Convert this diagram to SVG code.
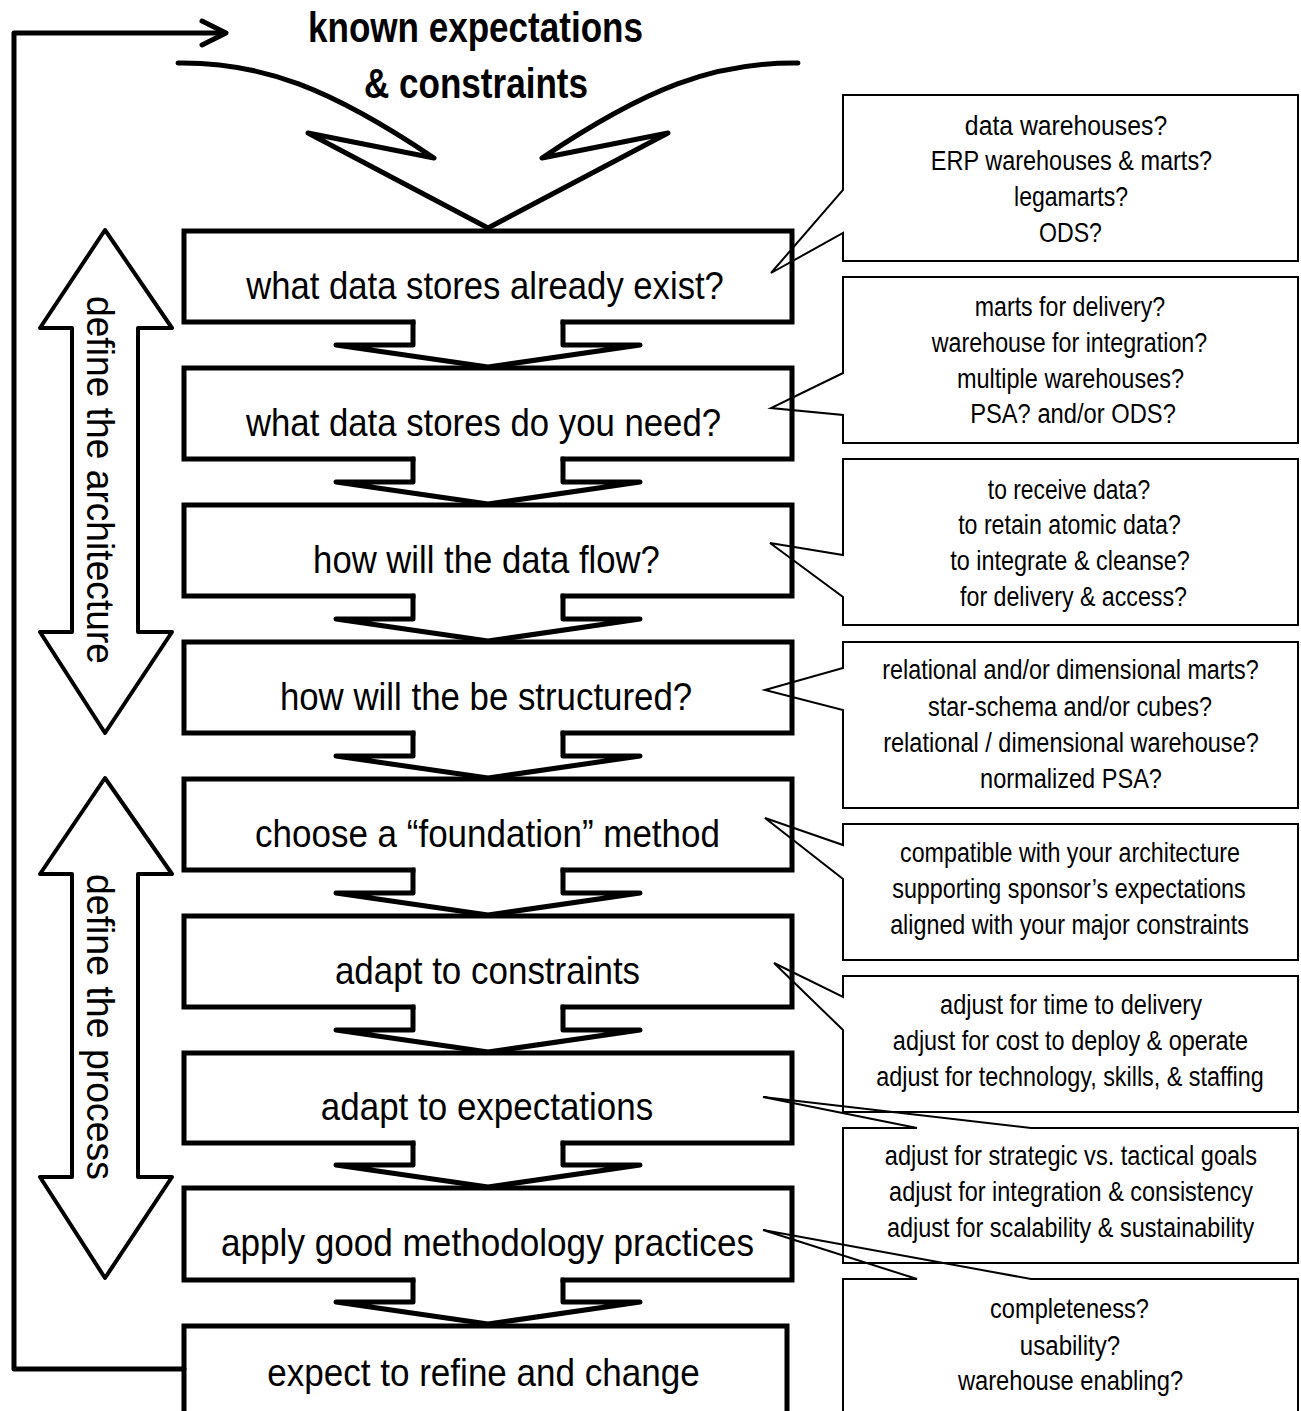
<svg xmlns="http://www.w3.org/2000/svg" width="1301" height="1411" viewBox="0 0 1301 1411">
  <style>
    .box { fill: none; stroke: #000; stroke-width: 5; stroke-linecap: square; stroke-linejoin: miter; }
    .conn { fill: none; stroke: #000; stroke-width: 5; stroke-linejoin: round; stroke-linecap: round; }
    .call { fill: none; stroke: #000; stroke-width: 2; stroke-linejoin: miter; }
    .side { fill: none; stroke: #000; stroke-width: 4; stroke-linejoin: round; }
    text { font-family: "Liberation Sans Narrow", "Liberation Sans", Arial, sans-serif; fill: #000; }
    .t { font-size: 39px; text-anchor: middle; }
    .c { font-size: 27.5px; text-anchor: middle; }
    .s { font-size: 38px; }
    .h { font-size: 42px; font-weight: bold; }
  </style>
  <rect width="1301" height="1411" fill="#fff"/>

  <!-- heading -->
  <g id="heading">
    <text class="h" x="308" y="42" textLength="335" lengthAdjust="spacingAndGlyphs">known expectations</text>
    <text class="h" x="364" y="98" textLength="224" lengthAdjust="spacingAndGlyphs">&amp; constraints</text>
  </g>

  <!-- side arrows -->
  <g id="arch-span">
    <path class="side" d="M105,230 L172,328 H138 V632 H172 L105,733 L40,632 H72 V328 H40 Z"/>
    <text class="s" transform="translate(87,296) rotate(90)" textLength="368" lengthAdjust="spacingAndGlyphs">define the architecture</text>
  </g>
  <g id="process-span">
    <path class="side" d="M105,778 L172,874 H138 V1177 H172 L105,1278 L40,1177 H72 V874 H40 Z"/>
    <text class="s" transform="translate(87,874) rotate(90)" textLength="306" lengthAdjust="spacingAndGlyphs">define the process</text>
  </g>

  <!-- process steps (labels condensed horizontally to 85%) -->
  <g id="step1">
    <path class="box" d="M413,322 H184 V231 H792 V322 H563"/>
    <text class="t" transform="translate(485,299) scale(0.85,1)" textLength="562" lengthAdjust="spacingAndGlyphs">what data stores already exist?</text>
  </g>
  <g id="step2">
    <path class="box" d="M413,459 H184 V368 H792 V459 H563"/>
    <text class="t" transform="translate(483.5,436) scale(0.85,1)" textLength="559" lengthAdjust="spacingAndGlyphs">what data stores do  you need?</text>
  </g>
  <g id="step3">
    <path class="box" d="M413,596 H184 V505 H792 V596 H563"/>
    <text class="t" transform="translate(486.5,573) scale(0.85,1)" textLength="408" lengthAdjust="spacingAndGlyphs">how will the data flow?</text>
  </g>
  <g id="step4">
    <path class="box" d="M413,733 H184 V642 H792 V733 H563"/>
    <text class="t" transform="translate(486,710) scale(0.85,1)" textLength="485" lengthAdjust="spacingAndGlyphs">how will the be structured?</text>
  </g>
  <g id="step5">
    <path class="box" d="M413,870 H184 V779 H792 V870 H563"/>
    <text class="t" transform="translate(487.5,847) scale(0.85,1)" textLength="547" lengthAdjust="spacingAndGlyphs">choose a “foundation” method</text>
  </g>
  <g id="step6">
    <path class="box" d="M413,1007 H184 V916 H792 V1007 H563"/>
    <text class="t" transform="translate(487.5,984) scale(0.85,1)" textLength="359" lengthAdjust="spacingAndGlyphs">adapt to constraints</text>
  </g>
  <g id="step7">
    <path class="box" d="M413,1143 H184 V1053 H792 V1143 H563"/>
    <text class="t" transform="translate(487,1120) scale(0.85,1)" textLength="391" lengthAdjust="spacingAndGlyphs">adapt to expectations</text>
  </g>
  <g id="step8">
    <path class="box" d="M413,1280 H184 V1188 H792 V1280 H563"/>
    <text class="t" transform="translate(487.5,1256) scale(0.85,1)" textLength="627" lengthAdjust="spacingAndGlyphs">apply good methodology practices</text>
  </g>
  <g id="step9">
    <path class="box" d="M184,1430 V1326 H787 V1430"/>
    <text class="t" transform="translate(483.5,1386) scale(0.85,1)" textLength="509" lengthAdjust="spacingAndGlyphs">expect to refine and change</text>
  </g>

  <!-- notes (labels condensed horizontally to 85%) -->
  <g id="note1">
    <path class="call" d="M843,95 H1298 V261 H843 V233 L771,273 L843,190 Z"/>
    <text class="c" transform="translate(1066,135) scale(0.85,1)" textLength="238" lengthAdjust="spacingAndGlyphs">data warehouses?</text>
    <text class="c" transform="translate(1071.5,170) scale(0.85,1)" textLength="331" lengthAdjust="spacingAndGlyphs">ERP warehouses &amp; marts?</text>
    <text class="c" transform="translate(1071,206) scale(0.85,1)" textLength="134" lengthAdjust="spacingAndGlyphs">legamarts?</text>
    <text class="c" transform="translate(1070.5,242) scale(0.85,1)" textLength="74" lengthAdjust="spacingAndGlyphs">ODS?</text>
  </g>
  <g id="note2">
    <path class="call" d="M843,277 H1298 V443 H843 V415 L771,408 L843,373 Z"/>
    <text class="c" transform="translate(1070,316) scale(0.85,1)" textLength="224" lengthAdjust="spacingAndGlyphs">marts for delivery?</text>
    <text class="c" transform="translate(1069.5,352) scale(0.85,1)" textLength="324" lengthAdjust="spacingAndGlyphs">warehouse for integration?</text>
    <text class="c" transform="translate(1070.5,388) scale(0.85,1)" textLength="267" lengthAdjust="spacingAndGlyphs">multiple warehouses?</text>
    <text class="c" transform="translate(1073,423) scale(0.85,1)" textLength="242" lengthAdjust="spacingAndGlyphs">PSA? and/or ODS?</text>
  </g>
  <g id="note3">
    <path class="call" d="M843,459 H1298 V625 H843 V597 L770,543 L843,555 Z"/>
    <text class="c" transform="translate(1069,499) scale(0.85,1)" textLength="191" lengthAdjust="spacingAndGlyphs">to receive data?</text>
    <text class="c" transform="translate(1069.5,534) scale(0.85,1)" textLength="262" lengthAdjust="spacingAndGlyphs">to retain atomic data?</text>
    <text class="c" transform="translate(1070,570) scale(0.85,1)" textLength="282" lengthAdjust="spacingAndGlyphs">to integrate &amp; cleanse?</text>
    <text class="c" transform="translate(1073.5,606) scale(0.85,1)" textLength="267" lengthAdjust="spacingAndGlyphs">for delivery &amp; access?</text>
  </g>
  <g id="note4">
    <path class="call" d="M843,642 H1298 V808 H843 V710 L765,690 L843,668 Z"/>
    <text class="c" transform="translate(1070.5,679) scale(0.85,1)" textLength="443" lengthAdjust="spacingAndGlyphs">relational and/or dimensional marts?</text>
    <text class="c" transform="translate(1070,716) scale(0.85,1)" textLength="334" lengthAdjust="spacingAndGlyphs">star-schema and/or cubes?</text>
    <text class="c" transform="translate(1071,752) scale(0.85,1)" textLength="442" lengthAdjust="spacingAndGlyphs">relational / dimensional warehouse?</text>
    <text class="c" transform="translate(1071,788) scale(0.85,1)" textLength="214" lengthAdjust="spacingAndGlyphs">normalized PSA?</text>
  </g>
  <g id="note5">
    <path class="call" d="M843,824 H1298 V960 H843 V879 L765,818 L843,845 Z"/>
    <text class="c" transform="translate(1070,862) scale(0.85,1)" textLength="400" lengthAdjust="spacingAndGlyphs">compatible with your architecture</text>
    <text class="c" transform="translate(1069,898) scale(0.85,1)" textLength="416" lengthAdjust="spacingAndGlyphs">supporting sponsor’s expectations</text>
    <text class="c" transform="translate(1069.5,934) scale(0.85,1)" textLength="422" lengthAdjust="spacingAndGlyphs">aligned with your major constraints</text>
  </g>
  <g id="note6">
    <path class="call" d="M843,976 H1298 V1112 H843 V1030 L774,963 L843,997 Z"/>
    <text class="c" transform="translate(1071,1014) scale(0.85,1)" textLength="308" lengthAdjust="spacingAndGlyphs">adjust for time to delivery</text>
    <text class="c" transform="translate(1070.5,1050) scale(0.85,1)" textLength="418" lengthAdjust="spacingAndGlyphs">adjust for cost to deploy &amp; operate</text>
    <text class="c" transform="translate(1070,1086) scale(0.85,1)" textLength="456" lengthAdjust="spacingAndGlyphs">adjust for technology, skills, &amp; staffing</text>
  </g>
  <g id="note7">
    <path class="call" d="M843,1128 H917 L763,1097 L1031,1128 H1298 V1263 H843 Z"/>
    <text class="c" transform="translate(1071,1165) scale(0.85,1)" textLength="438" lengthAdjust="spacingAndGlyphs">adjust for strategic vs. tactical goals</text>
    <text class="c" transform="translate(1071,1201) scale(0.85,1)" textLength="428" lengthAdjust="spacingAndGlyphs">adjust for integration &amp; consistency</text>
    <text class="c" transform="translate(1070.5,1237) scale(0.85,1)" textLength="432" lengthAdjust="spacingAndGlyphs">adjust for scalability &amp; sustainability</text>
  </g>
  <g id="note8">
    <path class="call" d="M843,1430 V1279 H917 L763,1230 L1031,1279 H1298 V1430"/>
    <text class="c" transform="translate(1069.5,1318) scale(0.85,1)" textLength="187" lengthAdjust="spacingAndGlyphs">completeness?</text>
    <text class="c" transform="translate(1070,1355) scale(0.85,1)" textLength="118" lengthAdjust="spacingAndGlyphs">usability?</text>
    <text class="c" transform="translate(1070.5,1390) scale(0.85,1)" textLength="265" lengthAdjust="spacingAndGlyphs">warehouse enabling?</text>
  </g>

  <!-- connectors -->
  <g id="connectors">
    <!-- inflow of expectations and constraints -->
    <path class="conn" d="M178,63 C262,62 330,88 434,158 L308,133 L488,228"/>
    <path class="conn" d="M798,63 C714,62 646,88 542,158 L668,133 L488,228"/>
    <!-- step to step -->
    <path class="conn" d="M413,322 V345 H336 L488,367 L640,345 H563 V322"/>
    <path class="conn" d="M413,459 V482 H336 L488,504 L640,482 H563 V459"/>
    <path class="conn" d="M413,596 V619 H336 L488,641 L640,619 H563 V596"/>
    <path class="conn" d="M413,733 V756 H336 L488,778 L640,756 H563 V733"/>
    <path class="conn" d="M413,870 V893 H336 L488,915 L640,893 H563 V870"/>
    <path class="conn" d="M413,1007 V1030 H336 L488,1052 L640,1030 H563 V1007"/>
    <path class="conn" d="M413,1143 V1165 H336 L488,1187 L640,1165 H563 V1143"/>
    <path class="conn" d="M413,1280 V1302 H336 L488,1324 L640,1302 H563 V1280"/>
    <!-- feedback loop -->
    <path class="conn" stroke-width="6" stroke-linejoin="miter" stroke-linecap="butt" d="M184,1369 H14 V33 H224"/>
    <path class="conn" stroke-width="6" d="M202,21 L226,33 L202,45"/>
  </g>
</svg>
